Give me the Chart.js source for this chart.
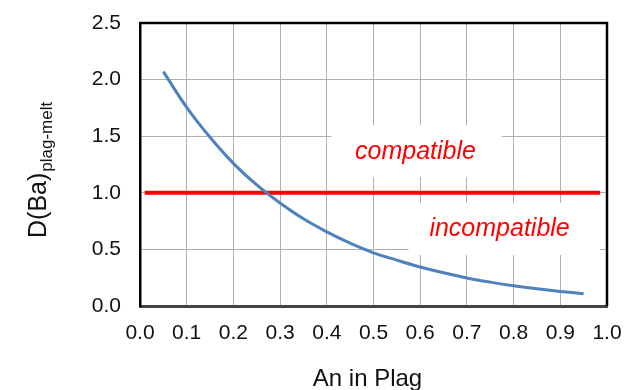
<!DOCTYPE html>
<html>
<head>
<meta charset="utf-8">
<script src="https://cdn.jsdelivr.net/npm/chart.js@4.4.1/dist/chart.umd.min.js"></script>
<style>
  html, body { margin: 0; padding: 0; background: #fff; }
  #wrap { width: 630px; height: 390px; }
</style>
</head>
<body>
<div id="wrap"><canvas id="baChart" width="630" height="390"></canvas></div>
<script>
// An fraction in plagioclase and D(Ba) plag/melt
const anValues = [0.05, 0.10, 0.15, 0.20, 0.25, 0.30, 0.35, 0.40, 0.45, 0.50,
                  0.55, 0.60, 0.65, 0.70, 0.75, 0.80, 0.85, 0.90, 0.95];
const dBaValues = [2.07, 1.755, 1.49, 1.26, 1.07, 0.91, 0.77, 0.655, 0.555, 0.47,
                   0.405, 0.345, 0.293, 0.248, 0.211, 0.179, 0.152, 0.129, 0.109];

// D = 1 divide line
const limitX = [0.01, 0.985];
const limitY = [1.0, 1.0];

const xTicks = [0.0, 0.1, 0.2, 0.3, 0.4, 0.5, 0.6, 0.7, 0.8, 0.9, 1.0];
const yTicks = [0.0, 0.5, 1.0, 1.5, 2.0, 2.5];

// region labels: text, center (data units), box extent (data units)
const regionLabels = [
  { text: "compatible",   x: 0.59, y: 1.36, box: [0.41, 1.60, 0.775, 1.14] },
  { text: "incompatible", x: 0.77, y: 0.68, box: [0.575, 0.91, 0.985, 0.45] }
];

const FONT = "'Liberation Sans', Arial, sans-serif";

const curve = anValues.map((x, i) => ({ x: x, y: dBaValues[i] }));
const limit = limitX.map((x, i) => ({ x: x, y: limitY[i] }));

const regionPlugin = {
  id: "regions",
  beforeDatasetsDraw(chart) {
    const { ctx, scales: { x, y } } = chart;
    ctx.save();
    regionLabels.forEach(r => {
      const x0 = x.getPixelForValue(r.box[0]);
      const y0 = y.getPixelForValue(r.box[1]);
      const x1 = x.getPixelForValue(r.box[2]);
      const y1 = y.getPixelForValue(r.box[3]);
      ctx.fillStyle = "#fff";
      ctx.fillRect(x0, y0, x1 - x0, y1 - y0);
      ctx.fillStyle = "#ff0000";
      ctx.font = "italic 25px " + FONT;
      ctx.textAlign = "center";
      ctx.textBaseline = "middle";
      ctx.fillText(r.text, x.getPixelForValue(r.x), y.getPixelForValue(r.y));
    });
    ctx.restore();
  }
};

const framePlugin = {
  id: "frame",
  afterDraw(chart) {
    const { ctx, chartArea: a } = chart;
    ctx.save();
    // top and right edges of the plot box
    ctx.strokeStyle = "#000";
    ctx.lineWidth = 2.5;
    ctx.beginPath();
    ctx.moveTo(a.left, a.top);
    ctx.lineTo(a.right, a.top);
    ctx.lineTo(a.right, a.bottom);
    ctx.stroke();

    // axis titles
    ctx.fillStyle = "#111";
    ctx.textBaseline = "alphabetic";
    ctx.font = "24px " + FONT;
    ctx.textAlign = "center";
    ctx.fillText("An in Plag", (a.left + a.right) / 2 - 6, 386);

    ctx.translate(46, 238);
    ctx.rotate(-Math.PI / 2);
    ctx.textAlign = "left";
    ctx.font = "25px " + FONT;
    ctx.fillText("D(Ba)", 0, 0);
    const w = ctx.measureText("D(Ba)").width;
    ctx.font = "17px " + FONT;
    ctx.fillText("plag-melt", w + 1, 6);
    ctx.restore();
  }
};

new Chart(document.getElementById("baChart"), {
  type: "line",
  data: {
    datasets: [
      {
        data: curve,
        borderColor: "#4f81bd",
        borderWidth: 3,
        pointRadius: 0,
        tension: 0.4
      },
      {
        data: limit,
        borderColor: "#ff0000",
        borderWidth: 4,
        pointRadius: 0,
        tension: 0
      }
    ]
  },
  options: {
    responsive: false,
    animation: false,
    layout: { padding: { left: 0, right: 23, top: 23, bottom: 0 } },
    plugins: { legend: { display: false }, tooltip: { enabled: false } },
    scales: {
      x: {
        type: "linear",
        min: 0,
        max: 1,
        afterBuildTicks: s => { s.ticks = xTicks.map(v => ({ value: v })); },
        afterFit: s => { s.height = 84; s.paddingLeft = 0; s.paddingRight = 0; },
        grid: { color: "#b0b0b0", lineWidth: 1, drawTicks: false },
        border: { color: "#444", width: 3 },
        ticks: {
          padding: 15,
          color: "#111",
          font: { family: FONT, size: 21 },
          callback: v => v.toFixed(1)
        }
      },
      y: {
        min: 0,
        max: 2.5,
        afterBuildTicks: s => { s.ticks = yTicks.map(v => ({ value: v })); },
        afterFit: s => { s.width = 140; s.paddingTop = 0; s.paddingBottom = 0; },
        grid: { color: "#b0b0b0", lineWidth: 1, drawTicks: false },
        border: { color: "#000", width: 2.5 },
        ticks: {
          padding: 19,
          color: "#111",
          font: { family: FONT, size: 21 },
          callback: v => v.toFixed(1)
        }
      }
    }
  },
  plugins: [regionPlugin, framePlugin]
});
</script>
</body>
</html>
